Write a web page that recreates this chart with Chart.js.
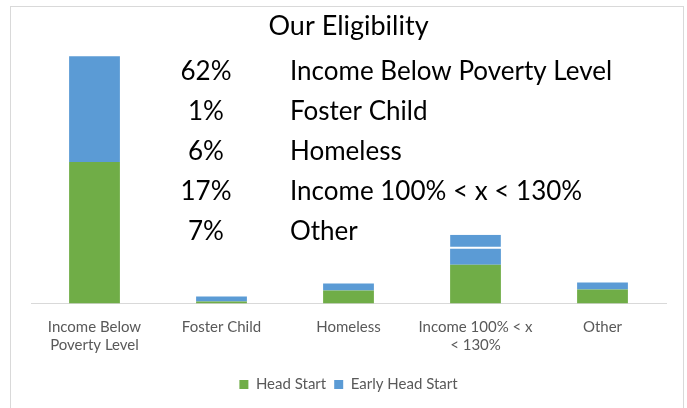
<!DOCTYPE html>
<html>
<head>
<meta charset="utf-8">
<script src="https://cdn.jsdelivr.net/npm/chart.js@4"></script>
<style>
  html, body { margin: 0; padding: 0; background: #fff; }
  #wrap { width: 687px; height: 408px; position: relative; }
</style>
</head>
<body>
<div id="wrap"><canvas id="chart" width="687" height="408"></canvas></div>
<script>
const categories = [
  ["Income Below", "Poverty Level"],
  "Foster Child",
  "Homeless",
  ["Income 100% < x", "< 130%"],
  "Other",
];
const headStart = [142, 2, 13, 39, 14];
const earlyHeadStart = [106, 5, 7, 16, 7];
// the 100-130% bar has a second blue block sitting on top
const earlyHeadStartExtra = [0, 0, 0, 14, 0];

const overlayPercents = ["62%", "1%", "6%", "17%", "7%"];
const overlayNames = [
  "Income Below Poverty Level",
  "Foster Child",
  "Homeless",
  "Income 100% < x < 130%",
  "Other",
];

const GREEN = "#70AD47";
const BLUE = "#5B9BD5";
const FONT = "Lato, 'Open Sans', sans-serif";

// frame around the whole chart + the text box with percentages
const overlay = {
  id: "overlay",
  beforeDraw(chart) {
    const ctx = chart.ctx;
    ctx.save();
    ctx.strokeStyle = "#d9d9d9";
    ctx.lineWidth = 1;
    ctx.strokeRect(10.5, 6.5, 673, 420);
    ctx.restore();
  },
  afterDatasetsDraw(chart) {
    const ctx = chart.ctx;
    ctx.save();
    ctx.fillStyle = "#000";
    ctx.font = "26px " + FONT;
    ctx.textBaseline = "middle";
    overlayPercents.forEach((p, i) => {
      const y = 72 + i * 40;
      ctx.textAlign = "center";
      ctx.fillText(p, 206, y);
      ctx.textAlign = "left";
      ctx.fillText(overlayNames[i], 290, y);
    });
    ctx.restore();
  },
};

new Chart(document.getElementById("chart"), {
  type: "bar",
  data: {
    labels: categories,
    datasets: [
      {
        label: "Head Start",
        data: headStart,
        backgroundColor: GREEN,
        borderWidth: 0,
      },
      {
        label: "Early Head Start",
        data: earlyHeadStart,
        backgroundColor: BLUE,
        borderWidth: 0,
      },
      {
        label: "extra",
        data: earlyHeadStartExtra,
        backgroundColor: BLUE,
        borderColor: "#fff",
        borderWidth: { top: 0, left: 0, right: 0, bottom: 2 },
        borderSkipped: false,
      },
    ],
  },
  options: {
    responsive: false,
    animation: false,
    devicePixelRatio: 1,
    layout: {
      padding: { left: 31, right: 21, top: 4, bottom: 6 },
    },
    datasets: {
      bar: { categoryPercentage: 1, barPercentage: 0.4 },
    },
    plugins: {
      title: {
        display: true,
        text: "Our Eligibility",
        color: "#000",
        font: { family: FONT, size: 27, weight: "normal" },
        padding: { top: 6, bottom: 4 },
      },
      legend: {
        position: "bottom",
        labels: {
          color: "#595959",
          font: { family: FONT, size: 15 },
          boxWidth: 9,
          boxHeight: 9,
          padding: 8,
          filter: (item) => item.text !== "extra",
        },
      },
      tooltip: { enabled: false },
    },
    scales: {
      x: {
        stacked: true,
        grid: { display: false, drawTicks: false },
        border: { color: "#d9d9d9" },
        ticks: {
          color: "#595959",
          font: { family: FONT, size: 15, lineHeight: 1.25 },
          padding: 14,
          maxRotation: 0,
        },
      },
      y: {
        stacked: true,
        display: false,
        min: 0,
        max: 258,
      },
    },
  },
  plugins: [overlay],
});
</script>
</body>
</html>
